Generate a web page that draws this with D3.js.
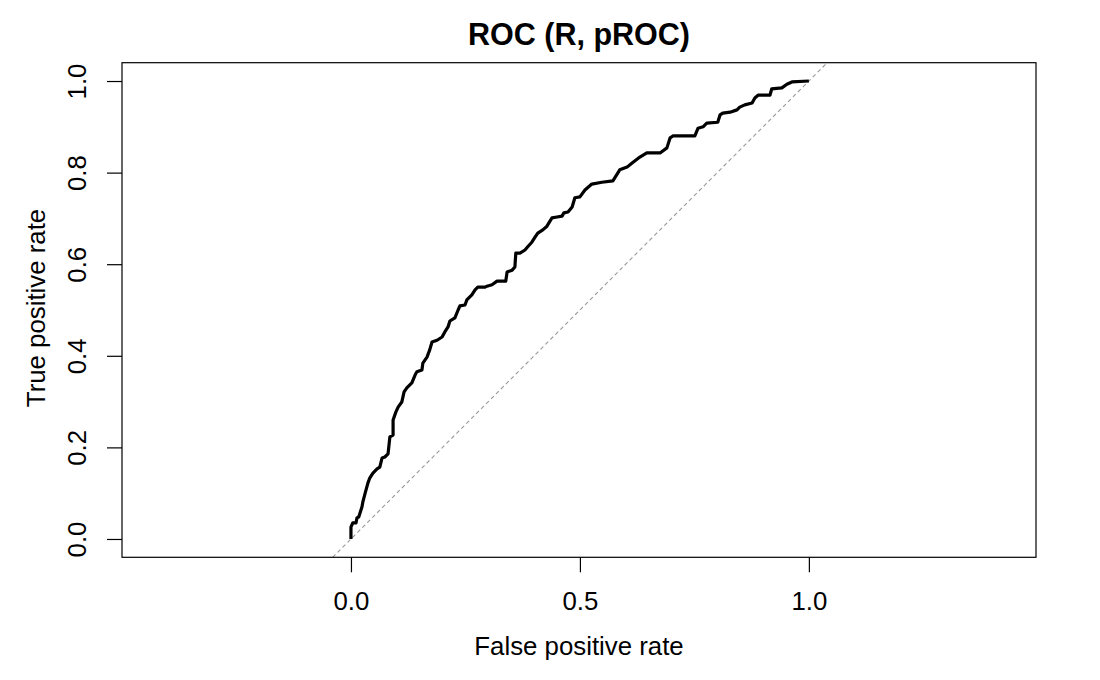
<!DOCTYPE html>
<html>
<head>
<meta charset="utf-8">
<script src="https://cdn.jsdelivr.net/npm/d3@7"></script>
<style>
  body { margin: 0; background: #fff; }
  text { font-family: "Liberation Sans", Arial, sans-serif; fill: #000; }
</style>
</head>
<body>
<svg class="roc" width="1100" height="680"></svg>
<script>
// ROC curve points (false positive rate, true positive rate)
const fpr = [0, 0, 0.004, 0.011, 0.013, 0.017, 0.024, 0.026, 0.031, 0.037, 0.041, 0.048, 0.057, 0.063,
  0.068, 0.074, 0.081, 0.085, 0.092, 0.092, 0.098, 0.103, 0.111, 0.116, 0.122, 0.133, 0.140, 0.144,
  0.155, 0.157, 0.166, 0.172, 0.177, 0.188, 0.199, 0.205, 0.212, 0.216, 0.227, 0.234, 0.238, 0.249,
  0.253, 0.264, 0.271, 0.277, 0.293, 0.297, 0.308, 0.319, 0.338, 0.341, 0.352, 0.358, 0.360, 0.369,
  0.380, 0.386, 0.395, 0.402, 0.408, 0.419, 0.428, 0.439, 0.450, 0.461, 0.465, 0.474, 0.483, 0.489,
  0.500, 0.511, 0.526, 0.548, 0.572, 0.587, 0.603, 0.614, 0.631, 0.646, 0.675, 0.690, 0.697, 0.703,
  0.751, 0.758, 0.769, 0.777, 0.801, 0.806, 0.812, 0.828, 0.843, 0.849, 0.860, 0.876, 0.882, 0.889,
  0.915, 0.919, 0.941, 0.952, 0.963, 1];
const tpr = [0, 0.026, 0.035, 0.035, 0.046, 0.048, 0.070, 0.081, 0.100, 0.122, 0.133, 0.144, 0.153, 0.157,
  0.177, 0.179, 0.186, 0.223, 0.227, 0.260, 0.277, 0.288, 0.299, 0.321, 0.330, 0.341, 0.358, 0.365,
  0.369, 0.384, 0.397, 0.413, 0.430, 0.434, 0.441, 0.452, 0.463, 0.476, 0.483, 0.500, 0.509, 0.511,
  0.522, 0.533, 0.544, 0.550, 0.550, 0.552, 0.555, 0.563, 0.563, 0.583, 0.587, 0.594, 0.624, 0.624,
  0.631, 0.638, 0.648, 0.659, 0.668, 0.675, 0.683, 0.701, 0.703, 0.705, 0.712, 0.714, 0.725, 0.745,
  0.747, 0.762, 0.775, 0.779, 0.782, 0.806, 0.812, 0.821, 0.834, 0.843, 0.843, 0.854, 0.876, 0.880,
  0.880, 0.897, 0.900, 0.908, 0.910, 0.926, 0.930, 0.932, 0.937, 0.943, 0.948, 0.952, 0.963, 0.969,
  0.969, 0.983, 0.985, 0.993, 0.998, 1];

const xTicks = [0, 0.5, 1];
const yTicks = [0, 0.2, 0.4, 0.6, 0.8, 1];
const xDomain = [-0.5, 1.496];
const yDomain = [-0.04, 1.04];

const titleText = "ROC (R, pROC)";
const xLabel = "False positive rate";
const yLabel = "True positive rate";

const svg = d3.select(".roc");

let boxLeft = 122, boxRight = 1036, boxTop = 62.7, boxBottom = 557.3;
let axisFont = "25.8px";

const xScale = d3.scaleLinear().domain(xDomain).range([boxLeft, boxRight]);
const yScale = d3.scaleLinear().domain(yDomain).range([boxBottom, boxTop]);

svg.append("rect").attr("width", 1100).attr("height", 680).attr("fill", "#fff");

//diagonal reference line, clipped to the plot box
svg.append("line")
  .attr("x1", xScale(yDomain[0]))
  .attr("y1", yScale(yDomain[0]))
  .attr("x2", xScale(yDomain[1]))
  .attr("y2", yScale(yDomain[1]))
  .attr("stroke", "#999")
  .attr("stroke-width", 1.1)
  .attr("stroke-dasharray", "4,3");

//the roc curve
const pts = fpr.map((d, i) => [d, tpr[i]]);
svg.append("path")
  .datum(pts)
  .attr("fill", "none")
  .attr("stroke", "#000")
  .attr("stroke-width", 3.2)
  .attr("stroke-linejoin", "round")
  .attr("d", d3.line().x((d) => xScale(d[0])).y((d) => yScale(d[1])));

//box
svg.append("rect")
  .attr("x", boxLeft)
  .attr("y", boxTop)
  .attr("width", boxRight - boxLeft)
  .attr("height", boxBottom - boxTop)
  .attr("fill", "none")
  .attr("stroke", "#000")
  .attr("stroke-width", 1.2);

//x axis
const xAxis = d3.axisBottom(xScale).tickValues(xTicks).tickSize(15).tickFormat(d3.format(".1f"));
const gx = svg.append("g")
  .attr("transform", `translate(0,${boxBottom})`)
  .call(xAxis);
gx.select(".domain").remove();
gx.selectAll("line").attr("stroke", "#000").attr("stroke-width", 1.2);
gx.selectAll("text")
  .attr("y", 53)
  .attr("dy", 0)
  .style("font-size", axisFont)
  .style("font-family", "Liberation Sans, Arial, sans-serif")
  .attr("fill", "#000");

//y axis with rotated labels like base R
const yAxis = d3.axisLeft(yScale).tickValues(yTicks).tickSize(15).tickFormat(d3.format(".1f"));
const gy = svg.append("g")
  .attr("transform", `translate(${boxLeft},0)`)
  .call(yAxis);
gy.select(".domain").remove();
gy.selectAll("line").attr("stroke", "#000").attr("stroke-width", 1.2);
gy.selectAll("text")
  .attr("transform", "rotate(-90)")
  .attr("x", 0)
  .attr("y", -36)
  .attr("dy", 0)
  .attr("text-anchor", "middle")
  .style("font-size", axisFont)
  .style("font-family", "Liberation Sans, Arial, sans-serif")
  .attr("fill", "#000");

//labels
svg.append("text")
  .attr("x", (boxLeft + boxRight) / 2)
  .attr("y", 45)
  .attr("text-anchor", "middle")
  .style("font-size", "30.5px")
  .style("font-weight", "bold")
  .text(titleText);

svg.append("text")
  .attr("x", (boxLeft + boxRight) / 2)
  .attr("y", 655)
  .attr("text-anchor", "middle")
  .style("font-size", axisFont)
  .text(xLabel);

svg.append("text")
  .attr("transform", `translate(45,${(boxTop + boxBottom) / 2 - 2}) rotate(-90)`)
  .attr("text-anchor", "middle")
  .style("font-size", axisFont)
  .text(yLabel);
</script>
</body>
</html>
